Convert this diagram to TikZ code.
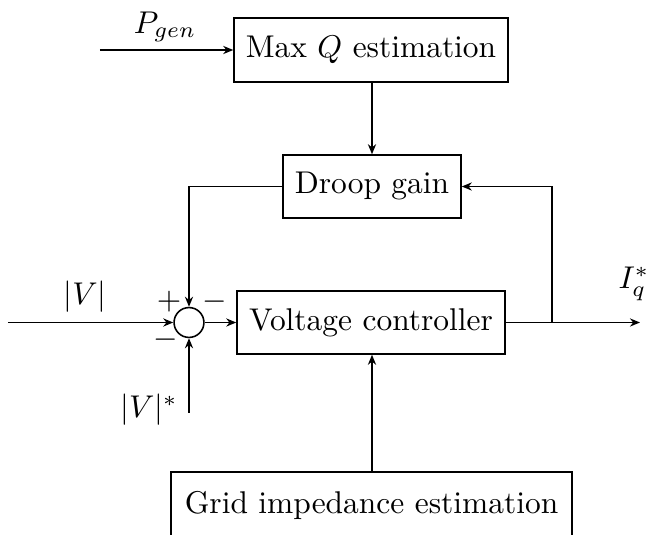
\documentclass[tikz,border=0pt]{standalone}
\usetikzlibrary{arrows.meta}
\begin{document}
\begin{tikzpicture}[x=0.318pt,y=-0.318pt,
  blk/.style={draw,line width=0.5pt,inner sep=0pt,anchor=center},
  sig/.style={line width=0.5pt,-{Stealth[length=3.2pt,width=2.6pt]}},
  wire/.style={line width=0.5pt},
  lbl/.style={inner sep=0pt,anchor=center}]
\useasboundingbox (0,0) rectangle (652,535);
% blocks
\node[blk,minimum width=87.1pt,minimum height=20.35pt] (maxq) at (371,50) {Max $Q$ estimation};
\node[blk,minimum width=56.6pt,minimum height=20pt] (droop) at (372,186.5) {Droop gain};
\node[blk,minimum width=85.2pt,minimum height=20pt] (vc) at (371,322.5) {Voltage controller};
\node[blk,minimum width=127.5pt,minimum height=21pt] (grid) at (371.5,505) {Grid impedance estimation};
\node[draw,circle,line width=0.5pt,minimum size=9.5pt,inner sep=0pt] (sum) at (189,322.5) {};
% free ends
\coordinate (pin) at (100,50);
\coordinate (vin) at (8,322.5);
\coordinate (vref) at (189,413);
\coordinate (out) at (640,322.5);
\coordinate (br) at (552,322.5);
% connectors
\draw[sig] (pin) -- (pin -| maxq.west);
\draw[sig] (maxq.south -| droop.north) -- (droop.north);
\draw[sig] (droop.west) -| (sum.north);
\draw[sig] (vin) -- (sum.west);
\draw[sig] (vref) -- (sum.south);
\draw[sig] (sum.east) -- (vc.west);
\draw[sig] (vc.east) -- (out);
\draw[sig] (br) |- (droop.east);
\draw[sig] (grid.north -| 372,0) -- (372,0 |- vc.south);
% labels
\node[lbl] (lp) at (165,27) {$P_{gen}$};
\node[lbl] (lv) at (85,297) {$|V|$};
\node[lbl] (lvr) at (149,410) {$|V|^*$};
\node[lbl] (li) at (634,284) {$I_q^*$};
\node[lbl] (sp) at (169,302) {$+$};
\node[lbl] (sm1) at (215,302) {$-$};
\node[lbl] (sm2) at (166,340) {$-$};
\end{tikzpicture}
\end{document}
